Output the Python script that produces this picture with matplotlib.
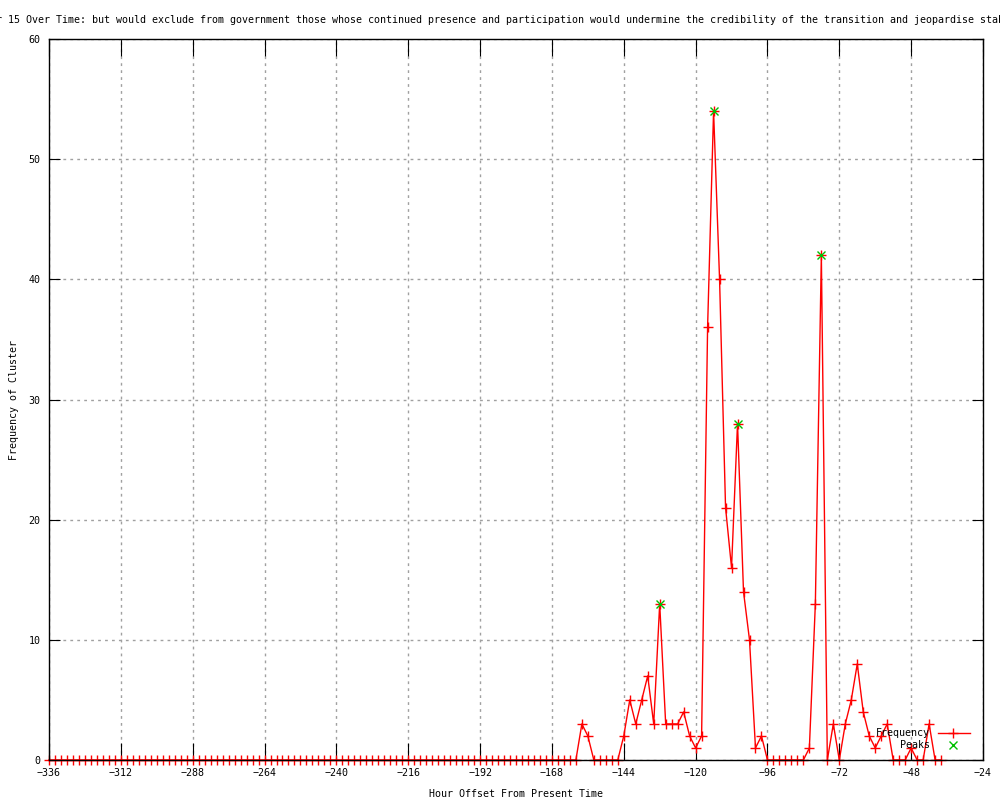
import matplotlib
matplotlib.use("Agg")
import matplotlib.pyplot as plt

# ---- data ----
hours = list(range(-336, -37, 2))
frequency = [
    0, 0, 0, 0, 0, 0, 0, 0, 0, 0, 0, 0, 0, 0, 0, 0, 0, 0, 0, 0,
    0, 0, 0, 0, 0, 0, 0, 0, 0, 0, 0, 0, 0, 0, 0, 0, 0, 0, 0, 0,
    0, 0, 0, 0, 0, 0, 0, 0, 0, 0, 0, 0, 0, 0, 0, 0, 0, 0, 0, 0,
    0, 0, 0, 0, 0, 0, 0, 0, 0, 0, 0, 0, 0, 0, 0, 0, 0, 0, 0, 0,
    0, 0, 0, 0, 0, 0, 0, 0, 0,
    3, 2, 0, 0, 0, 0, 0, 2, 5, 3, 5, 7, 3, 13, 3, 3, 3, 4, 2, 1,
    2, 36, 54, 40, 21, 16, 28, 14, 10, 1, 2, 0, 0, 0, 0, 0, 0, 0, 1, 13,
    42, 0, 3, 0, 3, 5, 8, 4, 2, 1, 2, 3, 0, 0, 0, 1, 0, 0, 3, 0,
    0,
]
peak_hours = [-132, -114, -106, -78]
peak_values = [13, 54, 28, 42]

x_ticks = [-336, -312, -288, -264, -240, -216, -192, -168, -144, -120, -96, -72, -48, -24]
y_ticks = [0, 10, 20, 30, 40, 50, 60]

title = ("Frequency of Cluster 15 Over Time: but would exclude from government those whose "
         "continued presence and participation would undermine the credibility of the "
         "transition and jeopardise stability")

FONT = "DejaVu Sans Mono"
FS = 7.2

fig = plt.figure(figsize=(10, 8), dpi=100)
ax = fig.add_axes([0.049, 0.05, 0.934, 0.90125])

ax.plot(hours, frequency, color="#ff0000", lw=1.0, marker="+", markersize=7,
        markeredgewidth=1.0, clip_on=False, zorder=3)
ax.plot(peak_hours, peak_values, linestyle="none", color="#00c000", marker="x",
        markersize=6, markeredgewidth=1.0, clip_on=False, zorder=4)

ax.set_xlim(-336, -24)
ax.set_ylim(0, 60)
ax.set_xticks(x_ticks)
ax.set_yticks(y_ticks)
ax.set_xticklabels([str(v).replace("-", "\u2212") for v in x_ticks], family=FONT, fontsize=FS)
ax.set_yticklabels([str(v) for v in y_ticks], family=FONT, fontsize=FS)
ax.tick_params(axis="x", direction="in", length=12, width=0.8, top=True, pad=6, color="black")
ax.tick_params(axis="y", direction="in", length=8, width=0.8, right=True, pad=6, color="black")
for s in ax.spines.values():
    s.set_linewidth(1.0)
    s.set_color("black")
    s.set_zorder(5)

ax.grid(True, color="#a0a0a0", linestyle=(0, (2, 3)), linewidth=1.0)
ax.set_axisbelow(True)

ax.set_xlabel("Hour Offset From Present Time", family=FONT, fontsize=FS, labelpad=8)
ax.set_ylabel("Frequency of Cluster", family=FONT, fontsize=FS, labelpad=7)

# title (wider than the figure, clipped at both edges as in the original)
fig.text(-0.118, 0.975, title, family=FONT, fontsize=7.17, ha="left", va="center")

# legend (gnuplot style: right-aligned text, sample to the right)
tr = ax.transAxes
ax.text(0.943, 0.0374, "Frequency", transform=tr, family=FONT, fontsize=FS,
        ha="right", va="center", zorder=6)
ax.plot([0.952, 0.986], [0.0374, 0.0374], transform=tr, color="#ff0000", lw=1.0,
        clip_on=False, zorder=6)
ax.plot([0.968], [0.0374], transform=tr, color="#ff0000", marker="+", markersize=7,
        markeredgewidth=1.0, clip_on=False, zorder=6)
ax.text(0.943, 0.0208, "Peaks", transform=tr, family=FONT, fontsize=FS,
        ha="right", va="center", zorder=6)
ax.plot([0.968], [0.0208], transform=tr, color="#00c000", marker="x", markersize=6,
        markeredgewidth=1.0, clip_on=False, zorder=6)

fig.savefig("out.png", dpi=100)
